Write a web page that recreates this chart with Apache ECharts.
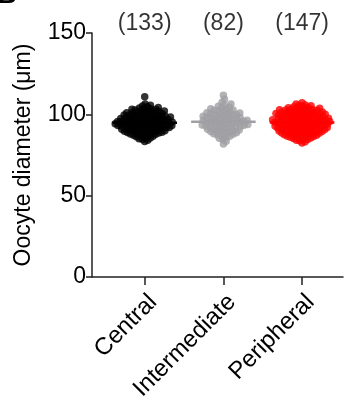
<!DOCTYPE html>
<html>
<head>
<meta charset="utf-8">
<script src="https://cdn.jsdelivr.net/npm/echarts@6/dist/echarts.min.js"></script>
<style>
html,body{margin:0;padding:0;background:#fff;}
#chart{width:347px;height:411px;}
</style>
</head>
<body>
<div id="chart"></div>
<script>
// categories and group colours
var categories = ['Central', 'Intermediate', 'Peripheral'];
var groupColors = ['#000000', '#a0a0a4', '#ff0000'];
var yTicks = [0, 50, 100, 150];

// oocyte diameters (um)
var centralVals = [83.3, 84.1,84.7, 85.0,85.4,85.8, 86.2,86.5,86.9, 87.0,87.2,87.5,87.7,87.9,
	88.0,88.2,88.4,88.6,88.8,88.9, 89.0,89.1,89.3,89.5,89.6,89.8,89.9,
	90.0,90.2,90.3,90.5,90.6,90.8,90.9, 91.0,91.1,91.3,91.4,91.5,91.7,91.8,91.9,
	92.0,92.2,92.3,92.4,92.6,92.7,92.8,92.9, 93.0,93.1,93.2,93.4,93.5,93.6,93.7,93.8,93.9,
	94.0,94.1,94.2,94.4,94.5,94.6,94.7,94.8,94.9, 95.0,95.1,95.3,95.4,95.5,95.6,95.7,95.8,95.9,
	96.0,96.1,96.3,96.4,96.6,96.7,96.8,96.9, 97.0,97.2,97.3,97.4,97.6,97.7,97.8,97.9,
	98.0,98.2,98.3,98.5,98.6,98.8,98.9, 99.0,99.2,99.4,99.5,99.6,99.8,99.9,
	100.1,100.3,100.4,100.6,100.8,100.9, 101.1,101.3,101.5,101.7,101.9, 102.0,102.3,102.5,102.7,102.9,
	103.1,103.4,103.6,103.9, 104.2,104.7, 105.1,105.6, 106.3, 110.8];
var intermediateVals = [81.8,83.4,84.6,85.3,85.9,86.5,87.0,87.3,87.7,88.1,88.4,88.7,89.0,89.2,89.5,89.8,
	90.1,90.3,90.6,90.8,91.1,91.4,91.6,91.9,92.1,92.2,92.5,92.7,92.9,93.1,93.3,93.5,93.7,93.9,
	94.1,94.2,94.4,94.7,94.9,95.1,95.3,95.5,95.7,95.8,96.0,96.2,96.4,96.6,96.8,97.1,97.3,97.5,97.7,97.9,
	98.1,98.3,98.6,98.8,99.1,99.4,99.6,99.9,100.1,100.3,100.6,100.8,101.0,101.4,101.7,102.1,102.5,102.7,
	103.0,103.4,103.9,104.3,105.0,105.6,106.4,107.5,109.3,111.8];
var peripheralVals = [82.4, 83.2,83.8, 84.1,84.5,84.9, 85.1,85.4,85.7,85.9, 86.0,86.3,86.5,86.7,86.9,
	87.0,87.2,87.4,87.6,87.8,87.9, 88.1,88.2,88.4,88.6,88.7,88.9, 89.0,89.2,89.3,89.5,89.6,89.8,89.9,
	90.0,90.1,90.3,90.4,90.6,90.7,90.8,90.9, 91.1,91.2,91.4,91.5,91.6,91.8,91.9,
	92.0,92.1,92.3,92.4,92.5,92.7,92.8,92.9, 93.0,93.2,93.3,93.4,93.6,93.7,93.8,93.9,
	94.0,94.1,94.2,94.4,94.5,94.7,94.8,94.9, 95.0,95.1,95.2,95.4,95.5,95.6,95.7,95.8,95.9,
	96.0,96.2,96.3,96.4,96.5,96.7,96.8,96.9, 97.0,97.1,97.3,97.4,97.5,97.6,97.8,97.9,
	98.0,98.2,98.3,98.5,98.6,98.8,98.9, 99.0,99.1,99.3,99.4,99.6,99.7,99.9,
	100.0,100.1,100.3,100.4,100.5,100.7,100.8,100.9, 101.0,101.2,101.4,101.5,101.7,101.9,
	102.0,102.2,102.3,102.5,102.6,102.8,102.9, 103.1,103.3,103.5,103.7,103.9,
	104.1,104.4,104.6,104.9, 105.2,105.5,105.8, 106.3, 107.1];
var groups = [centralVals, intermediateVals, peripheralVals];
var swarmGaps = [3.3, 3.8, 3.3];   // beeswarm collision distance per group, px

var X_MIN = 0.33, X_MAX = 3.52;
var KY = 244 / 150;             // px per um
var KX = 251 / (X_MAX - X_MIN); // px per category unit
var FONT = 'Liberation Sans, Arial, sans-serif';

function median(arr){
	var s = arr.slice().sort(function(a,b){return a-b;});
	var m = Math.floor(s.length/2);
	return s.length % 2 ? s[m] : (s[m-1]+s[m])/2;
}

// simple beeswarm: place each point as close to the centre as it can go
function swarm(vals, center, gap){
	var s = vals.slice().sort(function(a,b){return a-b;});
	var placed = [];
	var out = [];
	for(var i=0;i<s.length;i++){
		var py = s[i]*KY;
		var cands = [0];
		for(var j=0;j<placed.length;j++){
			var dy = py - placed[j][1];
			if(Math.abs(dy) < gap){
				var dx = Math.sqrt(gap*gap - dy*dy);
				cands.push(placed[j][0]+dx, placed[j][0]-dx);
			}
		}
		cands.sort(function(a,b){return Math.abs(a)-Math.abs(b);});
		var best = 0;
		for(var c=0;c<cands.length;c++){
			var ok = true;
			for(var k=0;k<placed.length;k++){
				var ddx = cands[c]-placed[k][0], ddy = py-placed[k][1];
				if(ddx*ddx+ddy*ddy < gap*gap-0.01){ ok = false; break; }
			}
			if(ok){ best = cands[c]; break; }
		}
		placed.push([best, py]);
		out.push([center + best/KX, s[i]]);
	}
	return out;
}

var seriesArr = [];
for(var g=0;g<groups.length;g++){
	seriesArr.push({
		type: 'scatter',
		data: swarm(groups[g], g+1, swarmGaps[g]),
		symbolSize: 7.5,
		itemStyle: { color: groupColors[g] },
		clip: false,
		z: 2
	});
	var med = median(groups[g]);
	seriesArr.push({
		type: 'line',
		data: [[g+1-0.41, med], [g+1+0.41, med]],
		symbol: 'none',
		lineStyle: { color: groupColors[g], width: 2.5 },
		z: 3,
		silent: true
	});
}
// group sizes above each column
seriesArr.push({
	type: 'scatter',
	symbolSize: 1,
	itemStyle: { color: 'rgba(0,0,0,0)' },
	clip: false,
	data: groups.map(function(v, i){ return [i+1, 156, v.length]; }),
	label: {
		show: true,
		position: 'inside',
		formatter: function(p){ return '(' + p.value[2] + ')'; },
		color: '#000',
		fontSize: 23,
		fontFamily: FONT
	}
});

var chart = echarts.init(document.getElementById('chart'));
var option = {
	animation: false,
	grid: { left: 92, right: 4, top: 33, bottom: 134 },
	graphic: [{
		type: 'text', left: -2, top: -17,
		style: { text: 'B', fontSize: 26, fontWeight: 'bold', fill: '#000', fontFamily: FONT }
	}],
	xAxis: {
		type: 'value',
		min: X_MIN,
		max: X_MAX,
		splitLine: { show: false },
		axisLine: { lineStyle: { color: '#222', width: 1.5 } },
		axisTick: { customValues: [1,2,3], length: 8, lineStyle: { color: '#222', width: 1.5 } },
		axisLabel: {
			customValues: [1,2,3],
			rotate: 45,
			margin: 13,
			verticalAlign: 'top',
			fontSize: 24,
			color: '#000',
			fontFamily: FONT,
			formatter: function(v){ return categories[Math.round(v)-1] || ''; }
		}
	},
	yAxis: {
		type: 'value',
		min: 0,
		max: 150,
		interval: 50,
		name: 'Oocyte diameter (\u03bcm)',
		nameLocation: 'middle',
		nameGap: 57,
		nameTextStyle: { fontSize: 23, color: '#000', fontFamily: FONT },
		splitLine: { show: false },
		axisLine: { show: true, lineStyle: { color: '#222', width: 1.5 } },
		axisTick: { show: true, length: 6, lineStyle: { color: '#222', width: 1.5 } },
		axisLabel: {
			margin: 6,
			fontSize: 23,
			color: '#000',
			fontFamily: FONT,
			customValues: yTicks
		}
	},
	series: seriesArr
};
chart.setOption(option);
</script>
</body>
</html>
